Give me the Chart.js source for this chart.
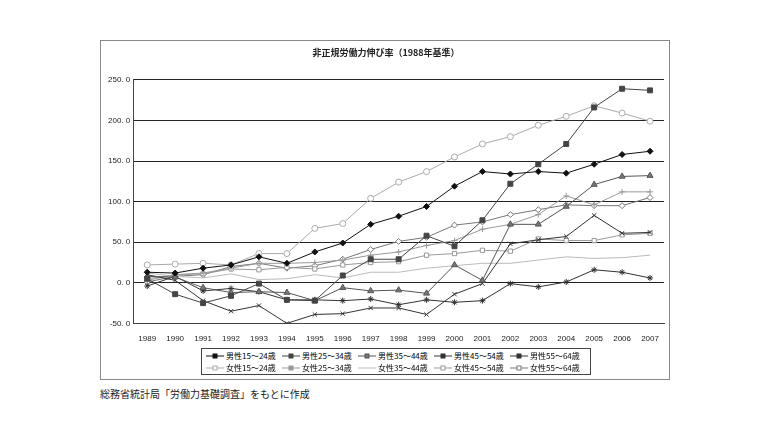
<!DOCTYPE html>
<html><head><meta charset="utf-8">
<script src="https://cdn.jsdelivr.net/npm/chart.js@4"></script>
<style>
body{margin:0;background:#fff;font-family:"Noto Sans CJK JP",sans-serif;}
#frame{position:absolute;left:100px;top:40px;width:568px;height:338px;border:1px solid #888;}
#wrap{position:absolute;left:0;top:0;width:568px;height:306px;}
#legend{position:absolute;left:100px;top:307px;width:380px;border:1px solid #444;font-size:8px;padding:1px 4px;display:grid;grid-template-columns:repeat(5,1fr);row-gap:1px;}
#legend div{white-space:nowrap;display:flex;align-items:center;}
#legend canvas{margin-right:2px;}
#src{position:absolute;left:100px;top:386px;font-size:10px;color:#222;}
</style></head><body>
<div id="frame"><div id="wrap"><canvas id="c"></canvas></div><div id="legend"></div></div>
<div id="src">総務省統計局「労働力基礎調査」をもとに作成</div>
<script>
const years=["1989","1990","1991","1992","1993","1994","1995","1996","1997","1998","1999","2000","2001","2002","2003","2004","2005","2006","2007"];
const names=["男性15～24歳","男性25～34歳","男性35～44歳","男性45～54歳","男性55～64歳","女性15～24歳","女性25～34歳","女性35～44歳","女性45～54歳","女性55～64歳"];
const m1524=[13,12,18,22,32,24,38,49,72,82,94,119,137,134,137,135,146,158,162];
const m2534=[5,-14,-25,-16,-1,-21,-22,9,29,29,58,45,77,122,146,171,216,239,237];
const m3544=[8,7,-6,-12,-11,-12,-22,-6,-10,-9,-13,22,3,72,72,94,121,131,132];
const m4554=[10,3,-22,-35,-28,-50,-39,-38,-31,-31,-39,-14,-1,48,53,57,83,61,62];
const m5564=[-4,8,-10,-7,-11,-21,-21,-22,-20,-27,-21,-24,-22,-1,-5,1,16,13,6];
const f1524=[22,23,24,22,36,36,67,73,104,124,137,155,171,180,194,205,218,209,199];
const f2534=[3,10,12,18,24,24,25,28,34,38,46,52,66,72,84,107,96,112,112];
const f3544=[12,8,6,11,4,5,10,6,13,13,18,21,24,24,28,32,30,31,34];
const f4554=[5,10,11,17,16,19,17,22,25,26,34,36,40,39,54,52,52,59,61];
const f5564=[1,8,10,20,24,18,21,29,41,51,56,71,75,84,90,96,95,95,105];
const series=[m1524,m2534,m3544,m4554,m5564,f1524,f2534,f3544,f4554,f5564];
const styles=[
 {c:'#111',p:'rectRot',r:3,f:'#111'},
 {c:'#444',p:'rect',r:3.5,f:'#444'},
 {c:'#555',p:'triangle',r:3.5,f:'#777'},
 {c:'#333',p:'crossRot',r:3,f:'#333'},
 {c:'#333',p:'star',r:3,f:'#333'},
 {c:'#aaa',p:'circle',r:3,f:'#fff'},
 {c:'#999',p:'cross',r:3,f:'#999'},
 {c:'#bbb',p:false,r:0,f:'#bbb'},
 {c:'#999',p:'rect',r:3,f:'#fff'},
 {c:'#777',p:'rectRot',r:3,f:'#fff'}];
const ds=series.map((d,i)=>({label:names[i],data:d,borderColor:styles[i].c,backgroundColor:styles[i].f,borderWidth:1,pointStyle:styles[i].p,pointRadius:styles[i].r,pointBorderColor:styles[i].c,pointBackgroundColor:styles[i].f,pointBorderWidth:1,tension:0}));
new Chart(document.getElementById('c'),{type:'line',data:{labels:years,datasets:ds},
options:{responsive:true,maintainAspectRatio:false,animation:false,
layout:{padding:{left:4,right:2,top:0,bottom:0}},
plugins:{legend:{display:false},tooltip:{enabled:false},
title:{display:true,text:'非正規労働力伸び率（1988年基準）',font:{size:9,family:'"Noto Sans CJK JP"'},color:'#222',padding:{top:6,bottom:22}}},
scales:{x:{offset:true,grid:{display:false},border:{color:'#444'},ticks:{font:{size:8},color:'#222',maxRotation:0,autoSkip:false}},
y:{min:-50,max:250,ticks:{stepSize:50,font:{size:8},color:'#222',callback:v=>v.toFixed(1).replace('.', '. ')},grid:{color:'#222',lineWidth:1,drawTicks:false},border:{color:'#444'}}}}});
const lg=document.getElementById('legend');
names.forEach((n,i)=>{const d=document.createElement('div');const cv=document.createElement('canvas');cv.width=18;cv.height=8;const x=cv.getContext('2d');x.strokeStyle=styles[i].c;x.beginPath();x.moveTo(0,4);x.lineTo(18,4);x.stroke();
if(styles[i].p){x.fillStyle=styles[i].f;x.fillRect(7,2,4,4);x.strokeRect(7,2,4,4);}
d.appendChild(cv);d.appendChild(document.createTextNode(n));lg.appendChild(d);});
</script></body></html>
